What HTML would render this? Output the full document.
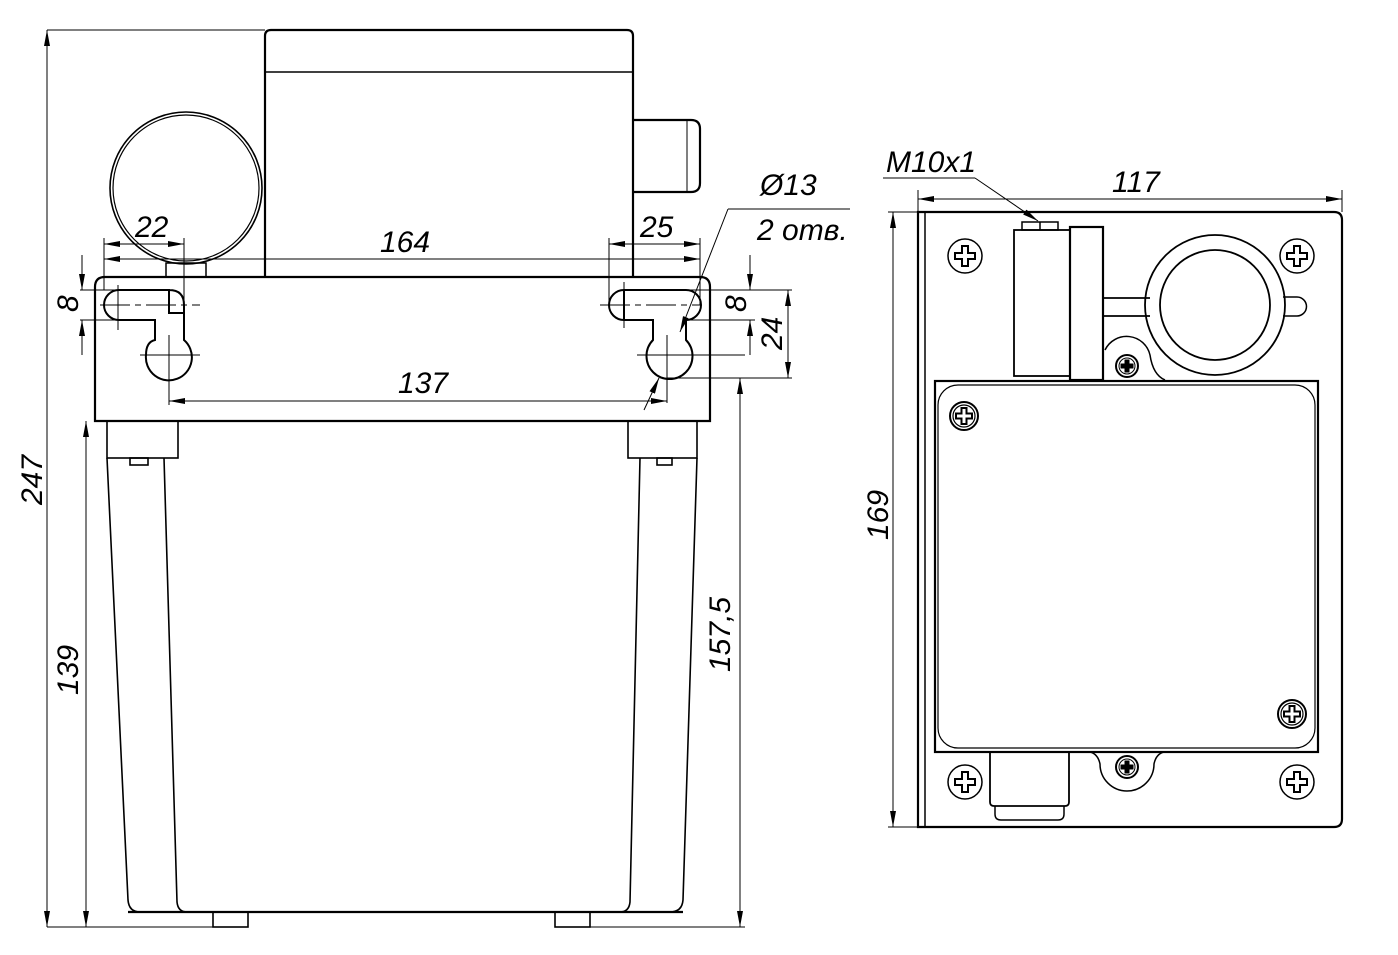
<!DOCTYPE html>
<html><head><meta charset="utf-8"><style>body{margin:0;background:#fff}svg{display:block}text{font-family:"Liberation Sans",sans-serif;font-style:italic;font-size:30px;fill:#000}</style></head>
<body>
<svg width="1398" height="955" viewBox="0 0 1398 955" xmlns="http://www.w3.org/2000/svg">
<defs>
<marker id="a" viewBox="0 0 16 6" refX="16" refY="3" markerWidth="16" markerHeight="6" markerUnits="userSpaceOnUse" orient="auto-start-reverse"><path d="M0,0L16,3L0,6z" fill="#000"/></marker>
<g id="scr"><circle r="17" fill="none" stroke="#000" stroke-width="1.5"/><path d="M-3,-10h6v7h7v6h-7v7h-6v-7h-7v-6h7z" fill="none" stroke="#000" stroke-width="2"/></g>
<g id="scr2"><circle r="14" fill="none" stroke="#000" stroke-width="2"/><circle r="11" fill="none" stroke="#000" stroke-width="1.2"/><path d="M-2.5,-8h5v5.5h5.5v5h-5.5v5.5h-5v-5.5h-5.5v-5h5.5z" fill="none" stroke="#000" stroke-width="2"/></g>
<g id="scr3"><circle r="11" fill="none" stroke="#000" stroke-width="2"/><circle r="8" fill="none" stroke="#000" stroke-width="1"/><path d="M-2,-6h4v4h4v4h-4v4h-4v-4h-4v-4h4z" fill="#000" stroke="#000" stroke-width="1"/></g>
</defs>
<g fill="none" stroke="#000" stroke-width="2.2">
<!-- left view -->
<path d="M265,278V36q0-6 6-6h356q6,0 6,6V278"/>
<line x1="265" y1="72" x2="633" y2="72" stroke-width="1.5"/>
<path d="M633,120h58q9,0 9,9v54q0,9-9,9h-58" />
<line x1="687" y1="120" x2="687" y2="192" stroke-width="1"/>
<circle cx="186" cy="188" r="76" stroke-width="1.6"/><circle cx="186" cy="188" r="73" stroke-width="1.2"/>
<rect x="166" y="263" width="40" height="14" stroke-width="1.5"/>
<path d="M95,421V287q0-10 10-10h595q10,0 10,10V421z"/>
<path d="M119,290h50v23h15v-8q0-15-15-15M119,290a15,15 0 0 0 0,30h36v20q-9,2-9,15a23,23 0 1 0 38,-15v-27" stroke-width="2"/>
<path d="M624,290a15,15 0 0 0 0,30h29v20a23,23 0 1 0 33,0v-20a15,15 0 0 0 0,-30zM624,290v30" stroke-width="2"/>
<g stroke-width="1.6">
<rect x="107" y="421" width="71" height="37"/><rect x="130" y="458" width="18" height="7"/>
<rect x="628" y="421" width="69" height="37"/><rect x="657" y="458" width="15" height="7"/>
<path d="M107,458L128,900q1,12 12,12H670q12,0 13-12L697,458"/>
<path d="M164,458L177,902q1,10 10,10M640,458L630,902q-1,10-10,10"/>
</g>
<line x1="128" y1="912" x2="683" y2="912"/>
<rect x="213" y="912" width="35" height="15" stroke-width="1.6"/><rect x="555" y="912" width="35" height="15" stroke-width="1.6"/>
</g>
<g fill="none" stroke="#000" stroke-width="1">
<line x1="100" y1="305" x2="200" y2="305" stroke-dasharray="30,5,6,5"/><line x1="118" y1="285" x2="118" y2="330"/>
<line x1="140" y1="355" x2="200" y2="355"/><line x1="169" y1="335" x2="169" y2="405"/>
<line x1="600" y1="305" x2="700" y2="305" stroke-dasharray="30,5,6,5"/><line x1="624" y1="282" x2="624" y2="328"/>
<line x1="637" y1="355" x2="700" y2="355"/><line x1="667" y1="335" x2="667" y2="403"/>
<!-- dims -->
<line x1="47" y1="30" x2="265" y2="30"/><line x1="47" y1="927" x2="213" y2="927"/>
<line x1="47" y1="30" x2="47" y2="927" marker-start="url(#a)" marker-end="url(#a)"/>
<line x1="86" y1="421" x2="86" y2="927" marker-start="url(#a)" marker-end="url(#a)"/>
<line x1="590" y1="927" x2="745" y2="927"/>
<line x1="740" y1="378" x2="740" y2="927" marker-start="url(#a)" marker-end="url(#a)"/>
<line x1="80" y1="290" x2="119" y2="290"/><line x1="80" y1="320" x2="119" y2="320"/>
<line x1="82" y1="255" x2="82" y2="290" marker-end="url(#a)"/><line x1="82" y1="355" x2="82" y2="320" marker-end="url(#a)"/>
<line x1="104" y1="238" x2="104" y2="290"/><line x1="184" y1="238" x2="184" y2="305"/>
<line x1="104" y1="244" x2="184" y2="244" marker-start="url(#a)" marker-end="url(#a)"/>
<line x1="104" y1="259" x2="700" y2="259" marker-start="url(#a)" marker-end="url(#a)"/>
<line x1="609" y1="238" x2="609" y2="305"/><line x1="700" y1="238" x2="700" y2="305"/>
<line x1="609" y1="244" x2="700" y2="244" marker-start="url(#a)" marker-end="url(#a)"/>
<line x1="169" y1="401" x2="667" y2="401" marker-start="url(#a)" marker-end="url(#a)"/>
<line x1="686" y1="290" x2="792" y2="290"/><line x1="686" y1="320" x2="755" y2="320"/>
<line x1="750" y1="255" x2="750" y2="290" marker-end="url(#a)"/><line x1="750" y1="355" x2="750" y2="320" marker-end="url(#a)"/>
<line x1="667" y1="378" x2="792" y2="378"/><line x1="690" y1="355" x2="745" y2="355"/>
<line x1="788" y1="290" x2="788" y2="378" marker-start="url(#a)" marker-end="url(#a)"/>
<line x1="850" y1="209" x2="728" y2="209"/><line x1="728" y1="209" x2="680" y2="332" marker-end="url(#a)"/>
<line x1="644" y1="410" x2="659" y2="378" marker-end="url(#a)"/>
</g>
<text x="135" y="237">22</text><text x="380" y="252">164</text><text x="640" y="237">25</text><text x="398" y="393">137</text>
<text x="760" y="195">Ø13</text><text x="757" y="240">2 отв.</text>
<text transform="translate(42,505) rotate(-90)">247</text>
<text transform="translate(78,695) rotate(-90)">139</text>
<text transform="translate(730,672) rotate(-90)">157,5</text>
<text transform="translate(78,312) rotate(-90)">8</text>
<text transform="translate(746,312) rotate(-90)">8</text>
<text transform="translate(782,350) rotate(-90)">24</text>
<!-- right view -->
<g fill="none" stroke="#000" stroke-width="2.2">
<path d="M918,212H1334q8,0 8,8V819q0,8-8,8H918z"/>
<line x1="925" y1="212" x2="925" y2="827" stroke-width="1.5"/>
<rect x="935" y="381" width="383" height="371"/>
<rect x="938" y="385" width="377" height="363" rx="20" stroke-width="1.2"/>
<rect x="1014" y="230" width="56" height="146" stroke-width="1.8"/>
<rect x="1022" y="222" width="36" height="8" stroke-width="1.5"/><line x1="1040" y1="222" x2="1040" y2="230" stroke-width="1.5"/>
<rect x="1070" y="227" width="33" height="153"/>
<path d="M1103,298h47M1103,316h47" stroke-width="1.8"/>
<circle cx="1215" cy="305" r="70" stroke-width="1.8"/><circle cx="1215" cy="305" r="55" stroke-width="1.8"/>
<path d="M1283,297h14a9.5,9.5 0 0 1 0,19h-14" stroke-width="1.5"/>
<path d="M1105,350a24,24 0 0 1 45,5q3,20 15,25" stroke-width="1.5"/>
<path d="M990,752v50q0,4 4,4h71q4,0 4-4v-50" stroke-width="1.8"/>
<path d="M995,806v8q0,6 6,6h57q6,0 6-6v-8" stroke-width="1.5"/>
<path d="M1090,752q8,2 10,12a27,27 0 0 0 54,0q2-10 10-12" stroke-width="1.5"/>
</g>
<use href="#scr" x="965" y="256"/><use href="#scr" x="1297" y="256"/><use href="#scr" x="965" y="782"/><use href="#scr" x="1297" y="782"/>
<use href="#scr2" x="964" y="416"/><use href="#scr2" x="1292" y="714"/>
<use href="#scr3" x="1127" y="366"/><use href="#scr3" x="1127" y="767"/>
<g fill="none" stroke="#000" stroke-width="1">
<line x1="918" y1="190" x2="918" y2="212"/><line x1="1342" y1="190" x2="1342" y2="212"/>
<line x1="918" y1="199" x2="1342" y2="199" marker-start="url(#a)" marker-end="url(#a)"/>
<line x1="888" y1="212" x2="918" y2="212"/><line x1="888" y1="827" x2="918" y2="827"/>
<line x1="893" y1="212" x2="893" y2="827" marker-start="url(#a)" marker-end="url(#a)"/>
<line x1="883" y1="178" x2="975" y2="178"/><line x1="975" y1="178" x2="1038" y2="221" marker-end="url(#a)"/>
</g>
<text x="886" y="172">M10x1</text><text x="1112" y="192">117</text>
<text transform="translate(888,540) rotate(-90)">169</text>
</svg>
</body></html>
